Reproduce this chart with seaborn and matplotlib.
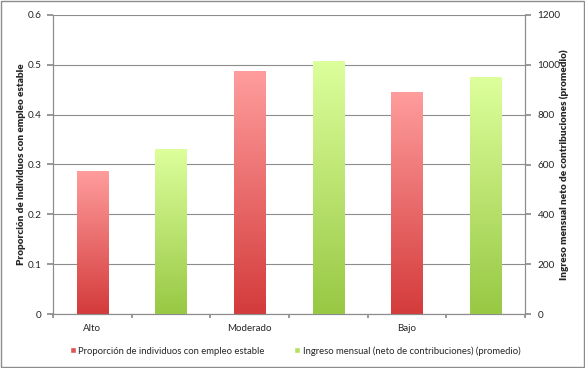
import numpy as np
import pandas as pd
import matplotlib
matplotlib.use("Agg")
import matplotlib.pyplot as plt
import matplotlib.colors as mcolors
from matplotlib.patches import Rectangle
import seaborn as sns

# datos
categorias = ["Alto", "Moderado", "Bajo"]
proporcion = [0.287, 0.487, 0.446]
ingreso = [662, 1016, 951]

serie_1 = "Proporción de individuos con empleo estable"
serie_2 = "Ingreso mensual (neto de contribuciones) (promedio)"

sns.set_theme(style="white")
plt.rcParams["font.family"] = ["Lato", "DejaVu Sans"]

# cada serie ocupa su propia ranura en el eje x (como en el original de Excel)
slots = [f"s{i}" for i in range(2 * len(categorias))]
df_rojo = pd.DataFrame({"slot": slots[0::2], "valor": proporcion})
df_verde = pd.DataFrame({"slot": slots[1::2], "valor": ingreso})

fig = plt.figure(figsize=(5.85, 3.68), dpi=100)
ax = fig.add_axes([53 / 585, 54 / 368, 472 / 585, 299 / 368])
ax2 = ax.twinx()

sns.barplot(data=df_rojo, x="slot", y="valor", order=slots, ax=ax, width=0.4,
            color="#e05555", saturation=1, errorbar=None, zorder=3)
sns.barplot(data=df_verde, x="slot", y="valor", order=slots, ax=ax2, width=0.4,
            color="#b5e060", saturation=1, errorbar=None, zorder=3)


def degradado(axis, top_color, bottom_color):
    cmap = mcolors.LinearSegmentedColormap.from_list("g", [bottom_color, top_color])
    grad = np.linspace(0, 1, 256).reshape(-1, 1)
    for p in list(axis.patches):
        x0, y0 = p.get_x(), p.get_y()
        w, h = p.get_width(), p.get_height()
        if h == 0 or np.isnan(h):
            continue
        im = axis.imshow(grad, cmap=cmap, origin="lower", aspect="auto",
                         extent=[x0, x0 + w, y0, y0 + h], zorder=3,
                         interpolation="bicubic")
        im.set_clip_path(p)
        p.set_facecolor("none")
        p.set_edgecolor("none")


degradado(ax, "#ff9d9d", "#d43b3b")
degradado(ax2, "#ddff9c", "#98c844")
ax.set_xlim(-0.5, len(slots) - 0.5)
ax.set_ylim(0, 0.6)
ax2.set_ylim(0, 1200)

# ejes y rejilla
gris = "#8c8c8c"
ax.set_yticks(np.arange(0, 0.61, 0.1))
ax.set_yticklabels(["0", "0.1", "0.2", "0.3", "0.4", "0.5", "0.6"])
ax2.set_yticks(np.arange(0, 1201, 200))
ax.yaxis.grid(True, color=gris, linewidth=0.8)
ax.set_axisbelow(True)
ax.set_xticks(np.arange(-0.5, len(slots), 1.0))
ax.set_xticklabels([])
ax.set_xticks([0, 2, 4], minor=True)
ax.set_xticklabels(categorias, minor=True)
ax.tick_params(axis="x", which="major", length=3, color=gris, direction="out", bottom=True)
ax.tick_params(axis="x", which="minor", length=0, pad=7, labelsize=7)
ax.tick_params(axis="y", length=4, color=gris, direction="out", left=True, labelsize=7.2, pad=4)
ax2.tick_params(axis="y", length=4, color=gris, direction="out", right=True, labelsize=7.2, pad=5)
ax.set_xlabel("")
ax2.set_xlabel("")
ax.set_ylabel(serie_1, fontsize=7.2, fontweight="heavy", labelpad=1)
ax2.set_ylabel("Ingreso mensual neto de contribuciones (promedio)", fontsize=7.2,
               fontweight="heavy", labelpad=-0.5)

for a in (ax, ax2):
    a.spines["top"].set_visible(False)
    for s in ["left", "right", "bottom"]:
        a.spines[s].set_color(gris)
        a.spines[s].set_linewidth(0.8)

# leyenda
handles = [Rectangle((0, 0), 1, 1, facecolor="#e05555"),
           Rectangle((0, 0), 1, 1, facecolor="#b5e060")]
fig.legend(handles, [serie_1, serie_2], loc="center", bbox_to_anchor=(295 / 585, 17 / 368),
           ncol=2, frameon=False, fontsize=6.8, handlelength=0.6, handleheight=0.6,
           handletextpad=0.25, columnspacing=3.2)

# marco exterior
fig.patches.append(Rectangle((0.002, 0.003), 0.996, 0.994, transform=fig.transFigure,
                             fill=False, edgecolor=gris, linewidth=1))

fig.savefig("out.png", dpi=100)
